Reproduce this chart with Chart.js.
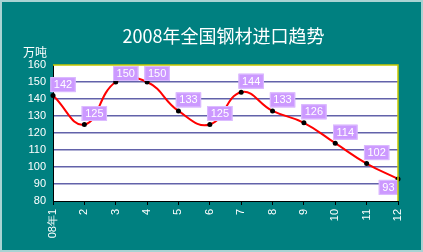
<!DOCTYPE html>
<html>
<head>
<meta charset="utf-8">
<script src="https://cdn.jsdelivr.net/npm/chart.js@4"></script>
<style>
  html, body { margin: 0; padding: 0; background: #008080; }
  #wrap { width: 423px; height: 252px; }
</style>
</head>
<body>
<div id="wrap"><canvas id="chart"></canvas></div>
<script>
const titleText = "2008年全国钢材进口趋势";
const unitText = "万吨";
const months = ["08年1", "2", "3", "4", "5", "6", "7", "8", "9", "10", "11", "12"];
const imports = [142, 125, 150, 150, 133, 125, 144, 133, 126, 114, 102, 93];
const yTicks = [80, 90, 100, 110, 120, 130, 140, 150, 160];

const numFont = '11px "Liberation Sans", Arial, sans-serif';

// backgrounds, title, unit label, rotated x labels
const decor = {
  id: "decor",
  beforeDraw(chart) {
    const { ctx, chartArea: a, width, height } = chart;
    ctx.save();
    ctx.fillStyle = "#a9d3d3";
    ctx.fillRect(0, 0, width, height);
    ctx.fillStyle = "#008080";
    ctx.fillRect(2, 2, width - 4, height - 4);
    ctx.fillStyle = "#ffffff";
    ctx.fillRect(a.left, a.top, a.right - a.left, a.bottom - a.top);
    ctx.restore();
  },
  afterDraw(chart) {
    const { ctx, chartArea: a } = chart;
    ctx.save();
    // plot border top / right
    ctx.strokeStyle = "#c8c800";
    ctx.lineWidth = 1.5;
    ctx.beginPath();
    ctx.moveTo(a.left, a.top);
    ctx.lineTo(a.right, a.top);
    ctx.lineTo(a.right, a.bottom);
    ctx.stroke();

    ctx.fillStyle = "#ffffff";
    ctx.font = '18px "Noto Sans CJK SC", sans-serif';
    ctx.textAlign = "center";
    ctx.textBaseline = "middle";
    ctx.fillText(titleText, (a.left + a.right) / 2 - 2, 36);

    ctx.font = '12px "Noto Sans CJK SC", sans-serif';
    ctx.textAlign = "right";
    ctx.fillText(unitText, a.left - 6, a.top - 13);

    const xs = chart.scales.x;
    ctx.font = numFont;
    months.forEach((m, i) => {
      ctx.save();
      ctx.translate(xs.getPixelForValue(i), a.bottom + 8);
      ctx.rotate(-Math.PI / 2);
      ctx.textAlign = "right";
      ctx.textBaseline = "middle";
      ctx.fillText(m, 0, 0);
      ctx.restore();
    });
    ctx.restore();
  },
  afterDatasetsDraw(chart) {
    const { ctx, chartArea: a } = chart;
    const meta = chart.getDatasetMeta(0);
    ctx.save();
    ctx.font = numFont;
    ctx.textAlign = "center";
    ctx.textBaseline = "middle";
    meta.data.forEach((pt, i) => {
      const txt = String(imports[i]);
      const w = ctx.measureText(txt).width + 7;
      const h = 15;
      let cx = pt.x + 10;
      let cy = pt.y - 11;
      if (cx + w / 2 > a.right) {
        cx = a.right - w / 2;
        cy = pt.y + 1 + h / 2;
      }
      if (cy - h / 2 < a.top + 1) cy = a.top + 1 + h / 2;
      ctx.fillStyle = "#cc99ff";
      ctx.fillRect(cx - w / 2, cy - h / 2, w, h);
      ctx.strokeStyle = "#dcbcff";
      ctx.lineWidth = 1;
      ctx.strokeRect(cx - w / 2 + 0.5, cy - h / 2 + 0.5, w - 1, h - 1);
      ctx.fillStyle = "#ffffff";
      ctx.fillText(txt, cx, cy + 0.5);
    });
    ctx.restore();
  }
};

new Chart(document.getElementById("chart"), {
  type: "line",
  data: {
    labels: months,
    datasets: [{
      data: imports,
      borderColor: "#ff0000",
      borderWidth: 2,
      tension: 0.45,
      pointRadius: 2.5,
      pointBackgroundColor: "#000000",
      pointBorderColor: "#000000",
      pointBorderWidth: 0,
      clip: false
    }]
  },
  options: {
    responsive: true,
    maintainAspectRatio: false,
    animation: false,
    layout: { padding: { top: 65, right: 25, bottom: 0, left: 0 } },
    plugins: {
      legend: { display: false },
      title: { display: false },
      tooltip: { enabled: false }
    },
    scales: {
      x: {
        offset: false,
        afterFit: (s) => { s.height = 51; },
        ticks: { display: false },
        grid: {
          drawOnChartArea: false,
          drawTicks: true,
          tickLength: 4,
          color: "#000000"
        },
        border: { color: "#000000", width: 1 }
      },
      y: {
        min: 80,
        max: 160,
        afterFit: (s) => { s.width = 53; },
        afterBuildTicks: (s) => { s.ticks = yTicks.map(v => ({ value: v })); },
        ticks: {
          color: "#ffffff",
          font: { family: '"Liberation Sans", Arial, sans-serif', size: 11 },
          padding: 7
        },
        grid: {
          drawTicks: false,
          lineWidth: 1.5,
          color: (c) => (c.tick && (c.tick.value === 80 || c.tick.value === 160)) ? "rgba(0,0,0,0)" : "#6262aa"
        },
        border: { color: "#000000", width: 1 }
      }
    }
  },
  plugins: [decor]
});
</script>
</body>
</html>
